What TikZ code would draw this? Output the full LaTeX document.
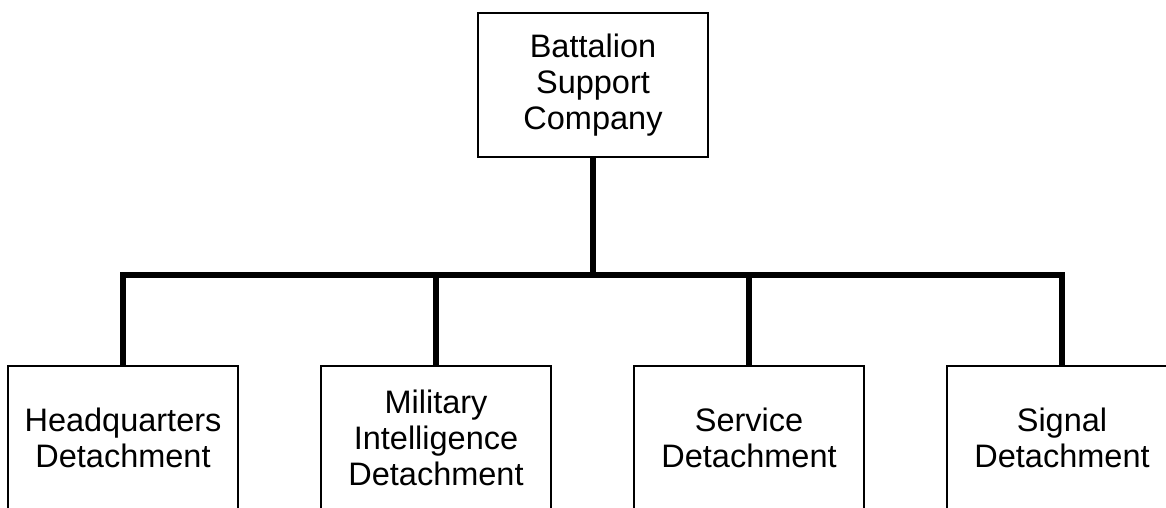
\documentclass[tikz,border=0pt]{standalone}
\usepackage{fontspec}
\setmainfont{Liberation Sans}
\begin{document}
\begin{tikzpicture}[x = 1pt, y = -1pt,
        unit/.style = {draw, line width = 2pt, minimum width = 230pt, minimum height = 144pt,
            inner sep = 0pt, align = center, font = \fontsize{32.5}{36}\selectfont},
        link/.style = {line width = 5.5pt, line join = miter}]
    \clip (0, 0) rectangle (1166, 507);

    \node [unit] (BSC) at (593, 85) {Battalion\\Support\\Company};

    \node [unit] (HQ)  at (123, 438)  {Headquarters\\Detachment};
    \node [unit] (MI)  at (436, 438)  {Military\\Intelligence\\Detachment};
    \node [unit] (SVC) at (749, 438)  {Service\\Detachment};
    \node [unit] (SIG) at (1062, 438) {Signal\\Detachment};

    \coordinate (bus) at (593, 275);

    \draw [link] (BSC.south) -- (bus);
    \draw [link] (HQ.north) |- (bus) -| (SIG.north);
    \draw [link]
        (MI.north) -- (MI.north |- bus)
        (SVC.north) -- (SVC.north |- bus);
\end{tikzpicture}
\end{document}
